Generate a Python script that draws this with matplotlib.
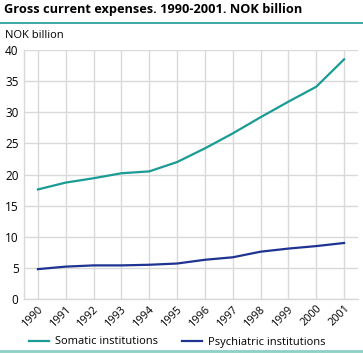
import matplotlib
matplotlib.use("Agg")
import matplotlib.pyplot as plt
from matplotlib.lines import Line2D

years = list(range(1990, 2002))
somatic = [17.6, 18.7, 19.4, 20.2, 20.5, 22.0, 24.2, 26.6, 29.2, 31.7, 34.1, 38.5]
psychiatric = [4.8, 5.2, 5.4, 5.4, 5.5, 5.7, 6.3, 6.7, 7.6, 8.1, 8.5, 9.0]
series_names = ["Somatic institutions", "Psychiatric institutions"]
title = "Gross current expenses. 1990-2001. NOK billion"
ylabel = "NOK billion"

teal = "#1a9b95"
navy = "#1f3393"
grid_c = "#d9d9d9"

plt.rcParams['font.family'] = ['Open Sans', 'DejaVu Sans']

fig = plt.figure(figsize=(3.63, 3.54), dpi=100)
ax = fig.add_axes([24/363, 1-299/354, (358-24)/363, (299-50)/354])

ax.plot(years, somatic, color=teal, lw=1.6, label=series_names[0], zorder=3)
ax.plot(years, psychiatric, color=navy, lw=1.6, label=series_names[1], zorder=3)

ax.set_xlim(1989.5, 2001.5)
ax.set_ylim(0, 40)
ax.set_xticks(years)
ax.set_xticklabels([str(y) for y in years], rotation=45, ha='right', rotation_mode='anchor', fontsize=7.8)
ax.set_yticks(range(0, 41, 5))
ax.tick_params(axis='y', labelsize=8.5, length=0, pad=4)
ax.tick_params(axis='x', length=0, pad=3)
ax.grid(True, color=grid_c, lw=1)
for s in ['top', 'right']:
    ax.spines[s].set_visible(False)
for s in ['left', 'bottom']:
    ax.spines[s].set_color(grid_c)
    ax.spines[s].set_linewidth(1)

fig.text(4/363, 1-10/354, title, fontsize=9.2, fontweight='bold', va='center', ha='left')
fig.text(5/363, 1-35/354, ylabel, fontsize=8, va='center', ha='left')

fig.add_artist(Line2D([0, 1], [1-22.5/354, 1-22.5/354], color=teal, lw=1.2, transform=fig.transFigure))
fig.add_artist(Line2D([0, 1], [1-351/354, 1-351/354], color="#8fcfca", lw=2, transform=fig.transFigure))

handles = [Line2D([0], [0], color=teal, lw=1.6), Line2D([0], [0], color=navy, lw=1.6)]
fig.legend(handles, series_names, loc='center', bbox_to_anchor=(177/363, 1-342/354), ncol=2,
           frameon=False, fontsize=8, handlelength=1.8, columnspacing=2.2, handletextpad=0.5)

fig.savefig("out.png", dpi=100)
